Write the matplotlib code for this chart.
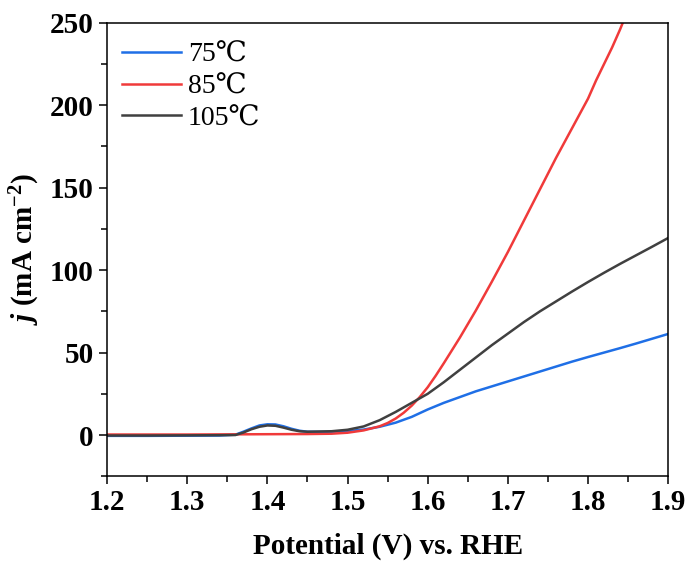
import matplotlib
matplotlib.use("Agg")
import matplotlib.pyplot as plt
from matplotlib.ticker import MultipleLocator

plt.rcParams['font.family'] = ['Liberation Serif', 'DejaVu Serif']
plt.rcParams['mathtext.fontset'] = 'custom'
plt.rcParams['mathtext.rm'] = 'Liberation Serif'
plt.rcParams['mathtext.it'] = 'Liberation Serif:italic:bold'
plt.rcParams['mathtext.bf'] = 'Liberation Serif:bold'

labels = ["75\u2103", "85\u2103", "105\u2103"]
colors = ["#1f6fe6", "#f03a3a", "#404040"]

x_75 = [1.20, 1.25, 1.30, 1.34, 1.36, 1.37, 1.38, 1.39, 1.40, 1.41, 1.42, 1.43, 1.44, 1.45, 1.47,
        1.50, 1.52, 1.54, 1.56, 1.58, 1.60, 1.62, 1.64, 1.66, 1.68, 1.70, 1.72, 1.74, 1.76,
        1.78, 1.80, 1.82, 1.84, 1.86, 1.88, 1.90]
j_75 = [-0.5, -0.5, -0.4, -0.3, 0.2, 2.0, 4.0, 5.8, 6.5, 6.4, 5.3, 3.8, 2.6, 2.0, 1.9,
        2.4, 3.3, 5.0, 7.5, 11.0, 15.5, 19.5, 23.0, 26.5, 29.5, 32.5, 35.5, 38.5, 41.5,
        44.5, 47.3, 50.0, 52.7, 55.5, 58.4, 61.3]

x_85 = [1.20, 1.25, 1.30, 1.35, 1.40, 1.45, 1.48, 1.50, 1.52, 1.54, 1.55, 1.56, 1.57, 1.58,
        1.59, 1.60, 1.61, 1.62, 1.64, 1.66, 1.68, 1.70, 1.72, 1.74, 1.76, 1.78, 1.80, 1.81,
        1.82, 1.83, 1.84, 1.85]
j_85 = [0.3, 0.3, 0.3, 0.4, 0.5, 0.6, 0.8, 1.4, 2.8, 5.3, 7.3, 10.0, 13.5, 17.8,
        23.0, 29.0, 36.0, 43.5, 59.0, 75.5, 93.0, 111.0, 130.0, 149.0, 168.0, 186.0, 204.0, 215.0,
        225.0, 235.0, 246.0, 258.0]

x_105 = [1.20, 1.25, 1.30, 1.34, 1.36, 1.37, 1.38, 1.39, 1.40, 1.41, 1.42, 1.43, 1.44, 1.45,
         1.48, 1.50, 1.52, 1.54, 1.56, 1.58, 1.60, 1.62, 1.64, 1.66, 1.68, 1.70, 1.72, 1.74,
         1.76, 1.78, 1.80, 1.82, 1.84, 1.86, 1.88, 1.90]
j_105 = [-0.3, -0.3, -0.2, -0.1, 0.0, 1.5, 3.5, 5.0, 5.8, 5.6, 4.5, 3.2, 2.3, 2.0,
         2.3, 3.2, 5.2, 9.0, 14.0, 19.5, 25.0, 32.0, 39.5, 47.0, 54.5, 61.5, 68.5, 75.0,
         81.0, 87.0, 92.8, 98.4, 103.8, 109.0, 114.2, 119.5]

fig = plt.figure(figsize=(6.91, 5.69), dpi=100)
ax = fig.add_axes([0.155, 0.163, 0.812, 0.797])

ax.plot(x_75, j_75, color=colors[0], lw=1.8, label=labels[0])
ax.plot(x_85, j_85, color=colors[1], lw=1.8, label=labels[1])
ax.plot(x_105, j_105, color=colors[2], lw=1.8, label=labels[2])

ax.set_xlim(1.2, 1.9)
ax.set_ylim(-25, 250)
ax.xaxis.set_major_locator(MultipleLocator(0.1))
ax.xaxis.set_minor_locator(MultipleLocator(0.05))
ax.yaxis.set_minor_locator(MultipleLocator(25))
ax.set_yticks([0, 50, 100, 150, 200, 250])

ax.tick_params(which='both', direction='out', top=False, right=False, width=1.1)
ax.tick_params(which='major', length=6, labelsize=21)
ax.tick_params(which='minor', length=4)
for lab in ax.get_xticklabels() + ax.get_yticklabels():
    lab.set_fontweight('bold')
for s in ax.spines.values():
    s.set_linewidth(1.1)

ax.set_xlabel("Potential (V) vs. RHE", fontsize=21, fontweight='bold', labelpad=12)
ax.set_ylabel(r"$\mathit{j}$ (mA cm$^{\mathbf{-2}}$)", fontsize=21, fontweight='bold', labelpad=6)

leg = ax.legend(loc='upper left', frameon=False, fontsize=20, handlelength=2.1,
                handletextpad=0.25, labelspacing=0.22, borderaxespad=0.15,
                bbox_to_anchor=(0.0, 0.99))

fig.savefig("out.png", dpi=100)
